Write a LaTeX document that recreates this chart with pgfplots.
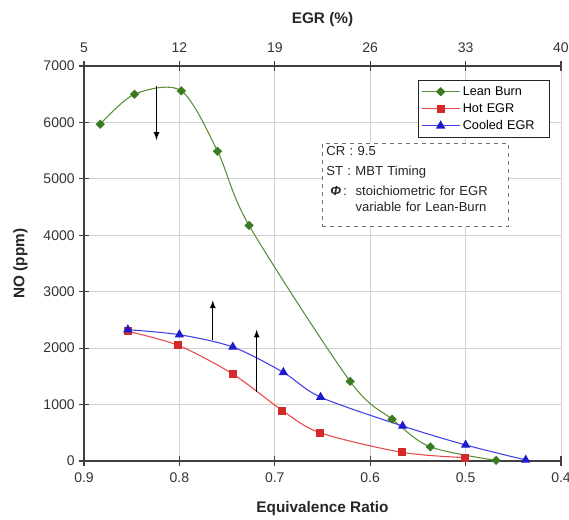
\documentclass[border=0pt]{standalone}
\usepackage{pgfplots}
\pgfplotsset{compat=1.18}
\usepackage{fontspec}
\setmainfont{Liberation Sans}

\definecolor{leanline}{HTML}{5A8F35}
\definecolor{leanmark}{HTML}{3C7A22}
\definecolor{hotline}{HTML}{E84848}
\definecolor{hotmark}{HTML}{D42A2A}
\definecolor{coolline}{HTML}{4040E8}
\definecolor{coolmark}{HTML}{1C1CCC}

\begin{document}
\begin{tikzpicture}
  % 1px = 0.75pt; page 569x520 px, axis frame 477x395 px
  \useasboundingbox (-63pt,-44.25pt) rectangle (363.75pt,345.75pt);
  \begin{axis}[
    at={(0,0)}, anchor=south west,
    scale only axis,
    width=357.75pt, height=296.25pt,
    x dir=reverse,
    xmin=0.4, xmax=0.9,
    ymin=0, ymax=7000,
    xtick={0.4,0.5,0.6,0.7,0.8,0.9},
    ytick={0,1000,...,7000},
    xticklabel style={yshift=-2pt, /pgf/number format/fixed, /pgf/number format/fixed zerofill, /pgf/number format/precision=1},
    yticklabel style={/pgf/number format/1000 sep={}},
    /pgf/number format/assume math mode=true,
    ticklabel style={font=\fontsize{10.5}{12}\selectfont, text=black!80},
    axis x line=bottom,
    axis y line=left,
    axis line style={-, draw=black!75, line width=0.9pt},
    tick align=center,
    major tick length=7pt,
    tick style={black!75, line width=0.8pt},
    grid=major,
    grid style={black!18, line width=0.7pt},
    xlabel={Equivalence Ratio},
    ylabel={NO (ppm)},
    label style={font=\bfseries\fontsize{11.5}{13}\selectfont, text=black!85},
    xlabel style={yshift=-7pt},
    ylabel style={yshift=5pt},
    legend style={
      at={(0.977,0.965)}, anchor=north east,
      draw=black!85, line width=0.8pt,
      font=\fontsize{9.5}{11}\selectfont,
      row sep=0.6pt, inner xsep=2pt, inner ysep=2.5pt,
      cells={anchor=west},
      nodes={text width=61pt, align=left},
    },
    legend image code/.code={
      \draw[mark repeat=2, mark phase=2, #1]
        plot coordinates {(0cm,0cm) (0.5cm,0cm) (1cm,0cm)};
    },
  ]
    % Lean Burn
    \addplot[leanline, line width=0.8pt, smooth, mark=diamond*, mark size=2.9pt,
      mark options={fill=leanmark, draw=leanmark, xscale=1.35}] coordinates {
      (0.883,5968) (0.847,6500) (0.798,6560) (0.760,5490) (0.727,4175)
      (0.621,1410) (0.577,740) (0.537,250) (0.468,10)
    };
    \addlegendentry{Lean Burn}
    % Hot EGR
    \addplot[hotline, line width=0.8pt, smooth, mark=square*, mark size=2.6pt,
      mark options={fill=hotmark, draw=hotmark}] coordinates {
      (0.854,2297) (0.801,2048) (0.744,1540) (0.692,894) (0.653,503)
      (0.567,154) (0.501,60)
    };
    \addlegendentry{Hot EGR}
    % Cooled EGR
    \addplot[coolline, line width=0.8pt, smooth, mark=triangle*, mark size=3.3pt,
      mark options={fill=coolmark, draw=coolmark}] coordinates {
      (0.854,2327) (0.800,2238) (0.744,2020) (0.691,1570) (0.652,1131)
      (0.566,620) (0.500,284) (0.437,18)
    };
    \addlegendentry{Cooled EGR}
    % arrows
    \addplot[black, line width=1pt, -latex, forget plot] coordinates {(0.824,6640) (0.824,5690)};
    \addplot[black, line width=1pt, -latex, forget plot] coordinates {(0.765,2137) (0.765,2846)};
    \addplot[black, line width=1pt, -latex, forget plot] coordinates {(0.719,1231) (0.719,2327)};
    % note box
    \node[anchor=north west, draw=black!55, dashed, line width=0.6pt, fill=white,
      inner xsep=3pt, inner ysep=2.5pt, text width=133.5pt, align=left,
      font=\fontsize{9.8}{15}\selectfont, text=black!85]
      at (rel axis cs:0.499,0.805) {%
        CR : 9.5\\
        ST : MBT Timing\\
        \hspace{3pt}\textit{\textbf{Φ}}\,:\ \ stoichiometric for EGR\\[-3.5pt]
        \phantom{\hspace{3pt}\textit{\textbf{Φ}}\,:\ \ }variable for Lean-Burn\rule[-9pt]{0pt}{1pt}};
  \end{axis}
  \begin{axis}[
    at={(0,0)}, anchor=south west,
    scale only axis,
    width=357.75pt, height=296.25pt,
    xmin=5, xmax=40,
    ymin=0, ymax=1,
    xtick={5,12,19,26,33,40},
    axis x line=top,
    axis y line=none,
    axis line style={-, draw=black!75, line width=0.9pt},
    tick align=center,
    major tick length=7pt,
    tick style={black!75, line width=0.8pt},
    /pgf/number format/assume math mode=true,
    ticklabel style={font=\fontsize{10.5}{12}\selectfont, text=black!80, yshift=3pt},
    xlabel={EGR (\%)},
    label style={font=\bfseries\fontsize{11.5}{13}\selectfont, text=black!85},
    xlabel style={yshift=5pt},
  ]
  \end{axis}
\end{tikzpicture}
\end{document}
